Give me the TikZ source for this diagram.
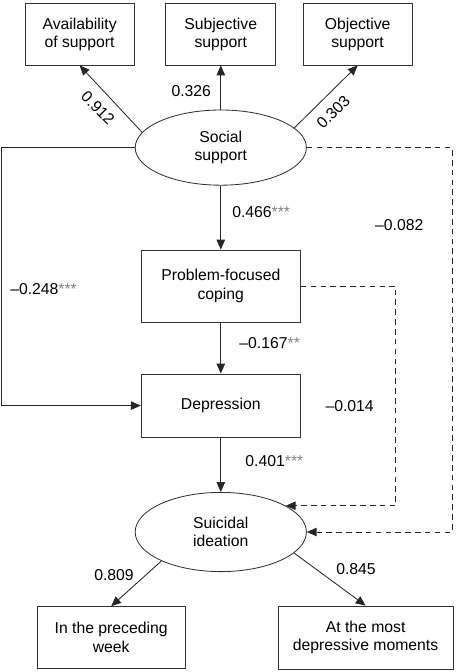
\documentclass[tikz,border=0pt]{standalone}
\usepackage{fontspec}
\setmainfont{Liberation Sans}
\usetikzlibrary{shapes.geometric, arrows.meta}

\newcommand{\stars}[1]{\textcolor{black!50}{#1}}

\begin{document}
\begin{tikzpicture}[
        font=\fontsize{11.2}{13.2}\selectfont,
        box/.style={draw=black!80, line width=0.6pt, align=center, inner sep=0pt},
        latent/.style={ellipse, draw=black!80, line width=0.6pt, align=center,
            inner sep=0pt, minimum width=4.28cm, minimum height=1.9cm},
        path/.style={draw=black!85, line width=0.6pt,
            -{Triangle[length=7pt,width=6pt]}},
        nspath/.style={path, dashed, dash pattern=on 4pt off 3pt},
        coef/.style={inner sep=0pt}
    ]
        \useasboundingbox (0,0) rectangle (11.4,-16.8);

        % Social support and its indicators
        \node[box, minimum width=2.73cm, minimum height=1.53cm] (avail) at (1.99,-0.86)
            {Availability\\of support};
        \node[box, minimum width=2.75cm, minimum height=1.53cm] (subj) at (5.52,-0.86)
            {Subjective\\support};
        \node[box, minimum width=2.73cm, minimum height=1.53cm] (obj) at (8.94,-0.86)
            {Objective\\support};
        \node[latent, minimum height=1.88cm] (social) at (5.52,-3.69) {Social\\support};

        \draw[path] (social.169) -- (avail.south);
        \draw[path] (social) -- (subj);
        \draw[path] (social.15) -- (obj.south);
        \node[coef, rotate=-45] at (2.45,-2.7) {0.912};
        \node[coef] at (4.78,-2.28) {0.326};
        \node[coef, rotate=45] at (8.33,-2.8) {0.303};

        % Mediator and depression
        \node[box, minimum width=3.98cm, minimum height=1.8cm] (coping) at (5.52,-7.15)
            {Problem-focused\\coping};
        \node[box, minimum width=3.98cm, minimum height=1.58cm] (depr) at (5.52,-10.14)
            {Depression};

        % Suicidal ideation and its indicators
        \node[latent, minimum height=1.98cm] (suic) at (5.52,-13.3) {Suicidal\\ideation};
        \node[box, minimum width=3.7cm, minimum height=1.55cm] (week) at (2.78,-15.94)
            {In the preceding\\week};
        \node[box, minimum width=4.38cm, minimum height=1.58cm] (most) at (9.14,-15.94)
            {At the most\\depressive moments};

        \draw[path] (suic.206) -- (week.north);
        \draw[path] (suic.344) -- (most.north);
        \node[coef] at (2.85,-14.38) {0.809};
        \node[coef] at (8.9,-14.23) {0.845};

        % Structural paths
        \coordinate (outer) at (11.3,0);
        \coordinate (inner) at (9.89,0);
        \coordinate (left) at (0.03,0);

        \draw[path] (social) -- (coping);
        \draw[path] (coping) -- (depr);
        \draw[path] (depr) -- (suic);
        \draw[path] (social.west) -| (left |- depr.west) -- (depr.west);
        \draw[nspath] (social.east) -| (outer |- suic.east) -- (suic.east);
        \draw[nspath] (coping.east) -| (inner |- suic.22) -- (suic.22);

        \node[coef, anchor=west] at (5.8,-5.3) {0.466\stars{***}};
        \node[coef] at (9.98,-5.63) {--0.082};
        \node[coef, anchor=west] at (0.25,-7.23) {--0.248\stars{***}};
        \node[coef, anchor=west] at (5.98,-8.58) {--0.167\stars{**}};
        \node[coef] at (8.74,-10.15) {--0.014};
        \node[coef, anchor=west] at (6.13,-11.53) {0.401\stars{***}};
    \end{tikzpicture}
\end{document}
